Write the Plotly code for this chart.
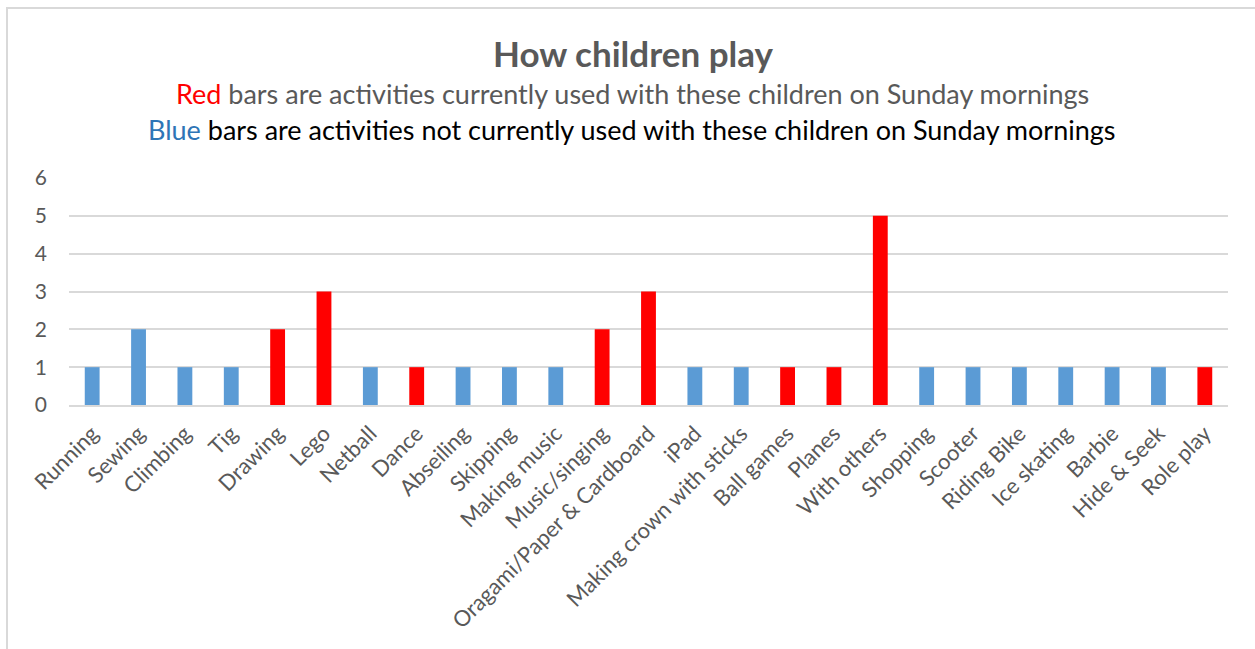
import plotly.graph_objects as go

activities = [
    "Running", "Sewing", "Climbing", "Tig", "Drawing", "Lego", "Netball", "Dance",
    "Abseiling", "Skipping", "Making music", "Music/singing",
    "Oragami/Paper & Cardboard", "iPad", "Making crown with sticks", "Ball games",
    "Planes", "With others", "Shopping", "Scooter", "Riding Bike", "Ice skating",
    "Barbie", "Hide & Seek", "Role play",
]
counts = [1, 2, 1, 1, 2, 3, 1, 1, 1, 1, 1, 2, 3, 1, 1, 1, 1, 5, 1, 1, 1, 1, 1, 1, 1]
# True = activity currently used on Sunday mornings
currently_used = [False, False, False, False, True, True, False, True, False, False,
                  False, True, True, False, False, True, True, True, False, False,
                  False, False, False, False, True]
y_ticks = [0, 1, 2, 3, 4, 5, 6]

RED = "#ff0000"
BLUE = "#5b9bd5"
GREY = "#595959"
FONT = "Lato, Calibri, sans-serif"

colors = [RED if u else BLUE for u in currently_used]

fig = go.Figure(go.Bar(
    x=activities,
    y=counts,
    marker=dict(color=colors, line=dict(width=0)),
    hoverinfo="x+y",
))

fig.update_layout(
    width=1255,
    height=649,
    margin=dict(l=69, r=27, t=178, b=244),
    paper_bgcolor="white",
    plot_bgcolor="white",
    bargap=0.68,
    showlegend=False,
    font=dict(family=FONT, color=GREY, size=18),
    xaxis=dict(
        tickangle=-45,
        tickfont=dict(size=22, color=GREY, family=FONT),
        showgrid=False,
        showline=True,
        linecolor="#d9d9d9",
        linewidth=2,
        ticks="",
        ticklabelstandoff=5,
    ),
    yaxis=dict(
        range=[0, 6],
        tickvals=y_ticks,
        tickfont=dict(size=21, color=GREY, family=FONT),
        showgrid=True,
        gridcolor="#d9d9d9",
        gridwidth=2,
        zeroline=False,
        showline=False,
        ticks="",
        ticklabelstandoff=21,
    ),
    shapes=[
        dict(type="rect", xref="paper", yref="paper",
             x0=(7 - 69) / 1159, x1=1.2, y0=-1.5, y1=(405 - 8) / 227,
             line=dict(color="#d9d9d9", width=2), fillcolor="rgba(0,0,0,0)",
             layer="below"),
    ],
    annotations=[
        dict(text="<b>How children play</b>", xref="paper", yref="paper",
             x=(633 - 69) / 1159, y=(405 - 53) / 227, xanchor="center", yanchor="middle",
             showarrow=False, font=dict(size=35, color=GREY, family=FONT)),
        dict(text=f"<span style='color:{RED}'>Red</span> bars are activities currently used with these children on Sunday mornings",
             xref="paper", yref="paper",
             x=(632 - 69) / 1159, y=(405 - 93) / 227, xanchor="center", yanchor="middle",
             showarrow=False, font=dict(size=27, color=GREY, family=FONT)),
        dict(text="<span style='color:#2e75b6'>Blue</span> bars are activities not currently used with these children on Sunday mornings",
             xref="paper", yref="paper",
             x=(632 - 69) / 1159, y=(405 - 129) / 227, xanchor="center", yanchor="middle",
             showarrow=False, font=dict(size=27, color="#000000", family=FONT)),
    ],
)

fig.write_html("out.html")
